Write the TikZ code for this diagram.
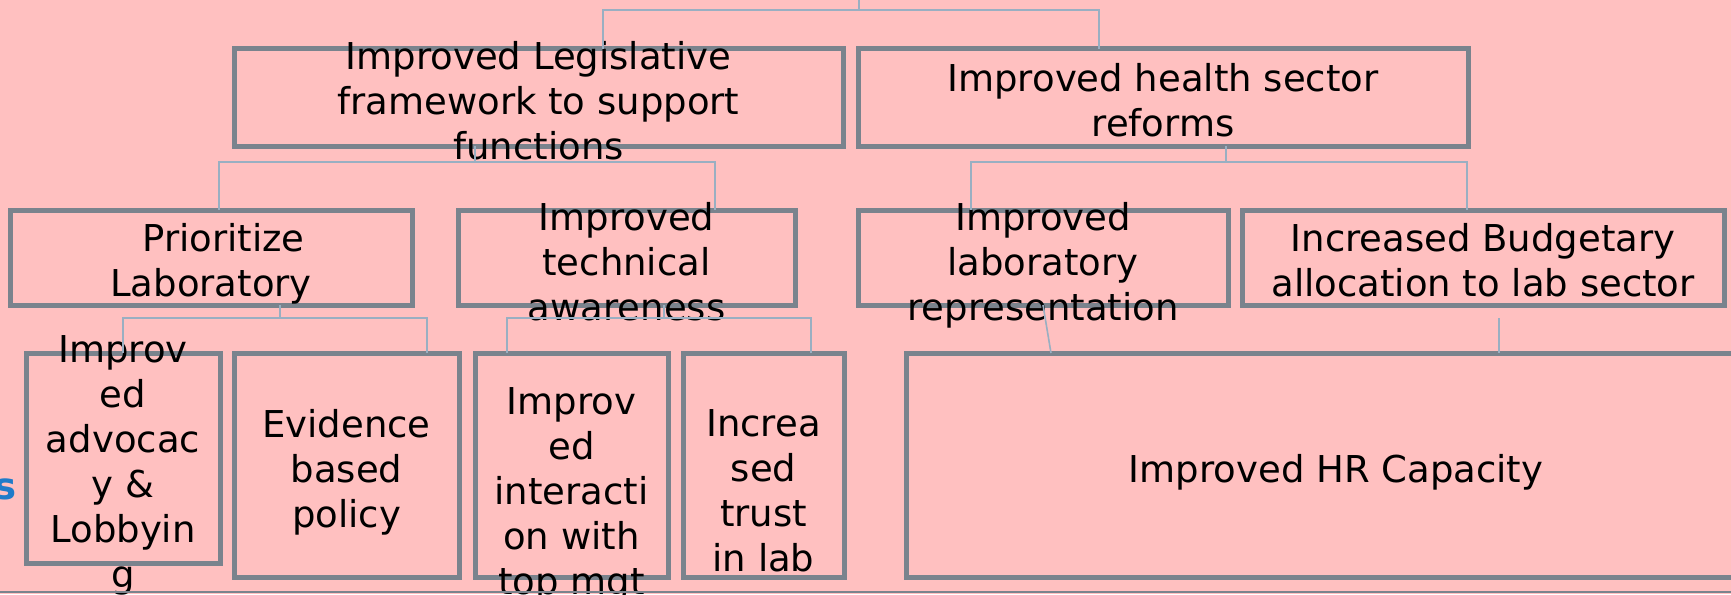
\documentclass[tikz,border=0pt]{standalone}
\usepackage{fontspec}
\setmainfont{DejaVu Sans}
\definecolor{bgpink}{HTML}{FFC0C0}
\definecolor{boxgray}{HTML}{7A838D}
\definecolor{linkblue}{HTML}{99AFC2}
\definecolor{tagblue}{HTML}{1F7BC9}

\begin{document}
\begin{tikzpicture}[x=1pt,y=-1pt,
  box/.style={rectangle, draw=boxgray, line width=5pt, inner sep=0pt, outer sep=0pt},
  lbl/.style={align=center, font=\fontsize{37}{45}\selectfont, text=black, inner sep=0pt},
  link/.style={draw=linkblue, line width=1.6pt}]
\fill[bgpink] (0,0) rectangle (1731,594);
\useasboundingbox (0,0) rectangle (1731,594);

% top level
\node[box, minimum width=609pt, minimum height=97pt] (a) at (538.5,97.5) {};
\node[box, minimum width=610pt, minimum height=97pt] (b) at (1163,97.5) {};
% second level
\node[box, minimum width=402pt, minimum height=95pt] (c) at (211,257.5) {};
\node[box, minimum width=337pt, minimum height=95pt] (d) at (626.5,257.5) {};
\node[box, minimum width=370pt, minimum height=95pt] (e) at (1043,257.5) {};
\node[box, minimum width=482pt, minimum height=95pt] (f) at (1483,257.5) {};
% third level
\node[box, minimum width=194pt, minimum height=210pt] (g) at (123,458) {};
\node[box, minimum width=225pt, minimum height=224pt] (h) at (346.5,465) {};
\node[box, minimum width=193pt, minimum height=224pt] (i) at (571.5,465) {};
\node[box, minimum width=161pt, minimum height=224pt] (j) at (763.5,465) {};
\node[box, minimum width=860pt, minimum height=224pt] (k) at (1336,465) {};

% labels
\node[lbl] (a-t) at (538.5,105) {\strut Improved Legislative\\framework to support\\functions\strut};
\node[lbl] (b-t) at (1163,105) {\strut Improved health sector\\reforms\strut};
\node[lbl] (c-t) at (211,265) {\strut\hspace*{25pt}Prioritize\\Laboratory\strut};
\node[lbl] (d-t) at (626.5,266) {\strut Improved\\technical\\awareness\strut};
\node[lbl] (e-t) at (1043,266) {\strut Improved\\laboratory\\representation\strut};
\node[lbl] (f-t) at (1483,265) {\strut Increased Budgetary\\allocation to lab sector\strut};
\node[lbl] (g-t) at (123,466) {\strut Improv\\ed\\advocac\\y \&\\Lobbyin\\g\strut};
\node[lbl] (h-t) at (346.5,473) {\strut Evidence\\based\\policy\strut};
\node[lbl] (i-t) at (571.5,495) {\strut Improv\\ed\\interacti\\on with\\top mgt\strut};
\node[lbl] (j-t) at (763.5,495) {\strut Increa\\sed\\trust\\in lab\strut};
\node[lbl] (k-t) at (1336,472) {Improved HR Capacity};

\node[font=\fontsize{37}{45}\selectfont\bfseries, text=tagblue, anchor=base east, inner sep=0pt] (tag) at (17,499) {s};

% connector junctions
\coordinate (top0) at (859,0);
\coordinate (topL) at (603,10);
\coordinate (topR) at (1099,10);
\coordinate (aM) at (475,162);
\coordinate (aL) at (219,162);
\coordinate (aR) at (715,162);
\coordinate (bM) at (1226,162);
\coordinate (bL) at (971,162);
\coordinate (bR) at (1467,162);
\coordinate (cM) at (280,318);
\coordinate (cL) at (123,318);
\coordinate (cR) at (427,318);
\coordinate (dM) at (664,318);
\coordinate (dL) at (507,318);
\coordinate (dR) at (811,318);
\coordinate (kE) at (1051,353);
\coordinate (fK) at (1499,318);

% connectors
\draw[link] (top0) -- (top0 |- topL);
\draw[link] (a.north -| topL) -- (topL) -- (topR) -- (b.north -| topR);
\draw[link] (a.south -| aM) -- (aM);
\draw[link] (c.north -| aL) -- (aL) -- (aR) -- (d.north -| aR);
\draw[link] (b.south -| bM) -- (bM);
\draw[link] (e.north -| bL) -- (bL) -- (bR) -- (f.north -| bR);
\draw[link] (c.south -| cM) -- (cM);
\draw[link] (g.north -| cL) -- (cL) -- (cR) -- (h.north -| cR);
\draw[link] (d.south -| dM) -- (dM);
\draw[link] (i.north -| dL) -- (dL) -- (dR) -- (j.north -| dR);
\draw[link] (1043,306) coordinate (eK) (e.south -| eK) -- (k.north -| kE);
\draw[link] (fK) -- (k.north -| fK);

% base rule
\coordinate (baseL) at (0,592);
\coordinate (baseR) at (1731,592);
\draw[boxgray, line width=2.5pt] (baseL) -- (baseR);
\end{tikzpicture}
\end{document}
